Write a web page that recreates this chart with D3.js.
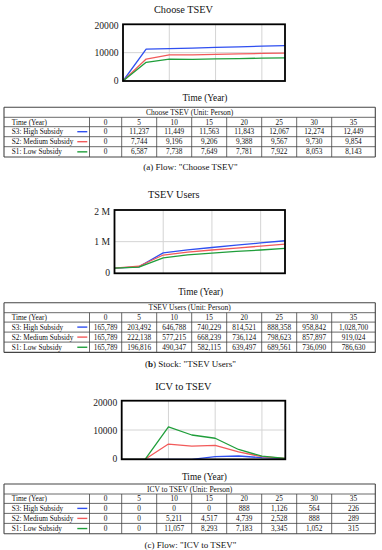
<!DOCTYPE html>
<html>
<head>
<meta charset="utf-8">
<script src="https://cdn.jsdelivr.net/npm/d3@7"></script>
<style>
  html, body { margin: 0; padding: 0; background: #fff; }
  svg { display: block; font-family: "Liberation Serif", "Times New Roman", serif; }
</style>
</head>
<body>
<svg id="chart" width="382" height="550"></svg>
<script>
// ---------- DATA ----------
const years = [0, 5, 10, 15, 20, 25, 30, 35];
const scenarios = ["S3: High Subsidy", "S2: Medium Subsidy", "S1: Low Subsidy"];
const scenarioColors = ["#2f4ff0", "#f25a5a", "#1f9e3a"];

// Choose TSEV (Unit: Person)
const chooseHigh   = [0, 11237, 11449, 11563, 11843, 12067, 12274, 12449];
const chooseMedium = [0, 7744, 9196, 9206, 9388, 9567, 9730, 9854];
const chooseLow    = [0, 6587, 7738, 7649, 7781, 7922, 8053, 8143];

// TSEV Users (Unit: Person)
const usersHigh   = [165789, 203492, 646788, 740229, 814521, 888358, 958842, 1028700];
const usersMedium = [165789, 222138, 577215, 668239, 736124, 798623, 857897, 919024];
const usersLow    = [165789, 196816, 490347, 582115, 639497, 689561, 736090, 786630];

// ICV to TSEV (Unit: Person)
const icvHigh   = [0, 0, 0, 0, 888, 1126, 564, 226];
const icvMedium = [0, 0, 5211, 4517, 4739, 2528, 888, 289];
const icvLow    = [0, 0, 11057, 8293, 7183, 3345, 1052, 315];

const chooseTicks = [0, 10000, 20000];
const chooseTickLabels = ["0", "10000", "20000"];
const usersTicks = [0, 1000000, 2000000];
const usersTickLabels = ["0", "1 M", "2 M"];
const icvTicks = [0, 10000, 20000];
const icvTickLabels = ["0", "10000", "20000"];
const xGrid = [10, 20, 30];

const panels = [
  {
    title: "Choose TSEV", tableTitle: "Choose TSEV (Unit: Person)",
    captionLetter: "a", captionRest: " Flow: \"Choose TSEV\"", letterBold: false,
    series: [chooseHigh, chooseMedium, chooseLow],
    yMax: 20000, ticks: chooseTicks, tickLabels: chooseTickLabels,
    layout: { titleY: 9.5, titleX: 183.5, x0: 123, x1: 285, yTop: 24.3, yBot: 81, axisLabelY: 98.3,
              tableTop: 107.3, captionY: 166.7 }
  },
  {
    title: "TSEV Users", tableTitle: "TSEV Users (Unit: Person)",
    captionLetter: "b", captionRest: " Stock: \"TSEV Users\"", letterBold: true,
    series: [usersHigh, usersMedium, usersLow],
    yMax: 2000000, ticks: usersTicks, tickLabels: usersTickLabels,
    layout: { titleY: 194, titleX: 173.7, x0: 114.5, x1: 285, yTop: 210, yBot: 273.3, axisLabelY: 291.7,
              tableTop: 302.7, captionY: 364 }
  },
  {
    title: "ICV to TSEV", tableTitle: "ICV to TSEV (Unit: Person)",
    captionLetter: "c", captionRest: " Flow: \"ICV to TSEV\"", letterBold: false,
    series: [icvHigh, icvMedium, icvLow],
    yMax: 20000, ticks: icvTicks, tickLabels: icvTickLabels,
    layout: { titleY: 386, titleX: 183.3, x0: 121.7, x1: 285.3, yTop: 400.7, yBot: 459.3, axisLabelY: 476.7,
              tableTop: 484, captionY: 545 }
  }
];

// ---------- DRAW ----------
const svg = d3.select("#chart");
const colEdges = [4, 89.5, 121.7, 156.7, 191.7, 226.7, 261.7, 296.7, 331.7, 375.3];
const rowH = [10, 9.4, 10, 10, 10.3];
const fmt = d3.format(",");

panels.forEach(p => {
  const L = p.layout;
  const g = svg.append("g");

  // title
  g.append("text").attr("x", L.titleX).attr("y", L.titleY)
    .attr("text-anchor", "middle").attr("dominant-baseline", "central")
    .attr("font-size", 10.3).attr("fill", "#111").text(p.title);

  const x = d3.scaleLinear().domain([0, 35]).range([L.x0, L.x1]);
  const y = d3.scaleLinear().domain([0, p.yMax]).range([L.yBot, L.yTop]);

  // grid
  g.selectAll(".vg").data(xGrid).enter().append("line")
    .attr("x1", d => x(d)).attr("x2", d => x(d))
    .attr("y1", L.yTop).attr("y2", L.yBot)
    .attr("stroke", "#d4d4d4").attr("stroke-width", 1);
  g.selectAll(".hg").data(p.ticks.slice(1, -1)).enter().append("line")
    .attr("x1", L.x0).attr("x2", L.x1)
    .attr("y1", d => y(d)).attr("y2", d => y(d))
    .attr("stroke", "#d4d4d4").attr("stroke-width", 1);

  // y tick labels
  g.selectAll(".yt").data(p.ticks).enter().append("text")
    .attr("x", L.x0 - 4.5).attr("y", (d, i) => y(d) + (i === 0 ? -0.5 : 0) + (i === p.ticks.length - 1 ? 1.5 : 0))
    .attr("text-anchor", "end").attr("dominant-baseline", "central")
    .attr("font-size", 9.6).attr("fill", "#222")
    .text((d, i) => p.tickLabels[i]);

  // lines
  const line = d3.line().x((d, i) => x(years[i])).y(d => y(d));
  p.series.forEach((s, k) => {
    g.append("path").datum(s).attr("d", line)
      .attr("fill", "none").attr("stroke", scenarioColors[k])
      .attr("stroke-width", 1.3).attr("stroke-linejoin", "round");
  });

  // frame
  g.append("rect").attr("x", L.x0).attr("y", L.yTop)
    .attr("width", L.x1 - L.x0).attr("height", L.yBot - L.yTop)
    .attr("fill", "none").attr("stroke", "#000").attr("stroke-width", 1.8);

  // axis label
  g.append("text").attr("x", (L.x0 + L.x1) / 2 + 1).attr("y", L.axisLabelY)
    .attr("text-anchor", "middle").attr("dominant-baseline", "central")
    .attr("font-size", 9.3).attr("fill", "#111").text("Time (Year)");

  // table
  const t = g.append("g");
  const rowTops = [L.tableTop];
  rowH.forEach(h => rowTops.push(rowTops[rowTops.length - 1] + h));
  const tL = colEdges[0], tR = colEdges[colEdges.length - 1];
  const tB = rowTops[rowTops.length - 1];
  const fs = 7.3;
  // horizontal lines
  rowTops.forEach((yy, i) => {
    t.append("line").attr("x1", tL).attr("x2", tR).attr("y1", yy).attr("y2", yy)
      .attr("stroke", "#444").attr("stroke-width", (i === 0 || i === rowTops.length - 1) ? 1.1 : 0.8);
  });
  // vertical lines
  colEdges.forEach((xx, i) => {
    const outer = (i === 0 || i === colEdges.length - 1);
    t.append("line").attr("x1", xx).attr("x2", xx)
      .attr("y1", outer ? rowTops[0] : rowTops[1]).attr("y2", tB)
      .attr("stroke", "#444").attr("stroke-width", outer ? 1.1 : 0.8);
  });
  // title row
  t.append("text").attr("x", (tL + tR) / 2).attr("y", (rowTops[0] + rowTops[1]) / 2)
    .attr("text-anchor", "middle").attr("dominant-baseline", "central")
    .attr("font-size", 7.5).attr("fill", "#111").text(p.tableTitle);
  // header row
  const hy = (rowTops[1] + rowTops[2]) / 2;
  t.append("text").attr("x", 11.7).attr("y", hy).attr("dominant-baseline", "central")
    .attr("font-size", fs).attr("fill", "#111").text("Time (Year)");
  years.forEach((yr, j) => {
    t.append("text").attr("x", (colEdges[j + 1] + colEdges[j + 2]) / 2).attr("y", hy)
      .attr("text-anchor", "middle").attr("dominant-baseline", "central")
      .attr("font-size", fs).attr("fill", "#111").text(yr);
  });
  // data rows
  p.series.forEach((s, k) => {
    const ry = (rowTops[k + 2] + rowTops[k + 3]) / 2;
    t.append("text").attr("x", 11.7).attr("y", ry).attr("dominant-baseline", "central")
      .attr("font-size", fs).attr("fill", "#111").text(scenarios[k]);
    t.append("line").attr("x1", 77.3).attr("x2", 87.3).attr("y1", ry).attr("y2", ry)
      .attr("stroke", scenarioColors[k]).attr("stroke-width", 1.4);
    s.forEach((v, j) => {
      t.append("text").attr("x", (colEdges[j + 1] + colEdges[j + 2]) / 2).attr("y", ry)
        .attr("text-anchor", "middle").attr("dominant-baseline", "central")
        .attr("font-size", fs).attr("fill", "#111").text(fmt(v));
    });
  });

  // caption
  const cap = g.append("text").attr("x", 190.5).attr("y", L.captionY)
    .attr("text-anchor", "middle").attr("dominant-baseline", "central")
    .attr("font-size", 9).attr("fill", "#111");
  cap.append("tspan").text("(");
  cap.append("tspan").attr("font-weight", p.letterBold ? "bold" : "normal").text(p.captionLetter);
  cap.append("tspan").text(")" + p.captionRest);
});
</script>
</body>
</html>
